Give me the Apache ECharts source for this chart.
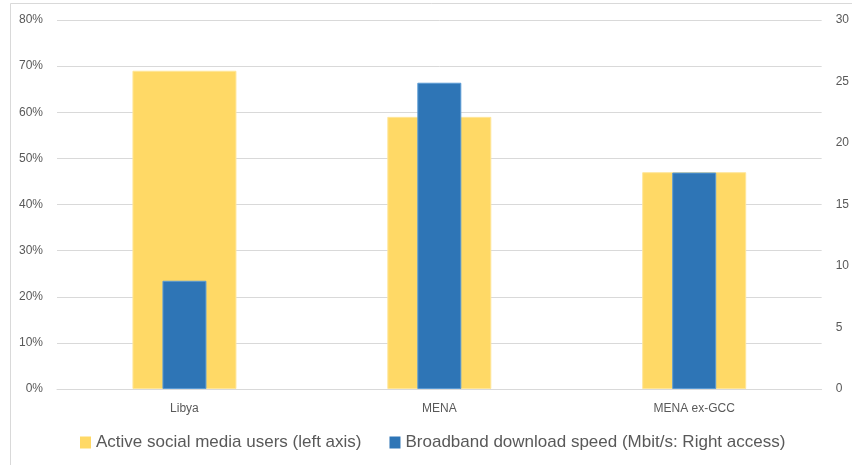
<!DOCTYPE html>
<html>
<head>
<meta charset="utf-8">
<script src="https://cdn.jsdelivr.net/npm/echarts@6/dist/echarts.min.js"></script>
<style>
html,body{margin:0;padding:0;background:#fff;}
#chart{width:852px;height:465px;}
</style>
</head>
<body>
<div id="chart"></div>
<script>
var categories = ['Libya', 'MENA', 'MENA ex-GCC'];
var socialUsers = [0.69, 0.59, 0.47];
var downloadSpeed = [8.8, 24.9, 17.6];
var seriesNames = ['Active social media users (left axis)', 'Broadband download speed (Mbit/s: Right access)'];

var chart = echarts.init(document.getElementById('chart'), null, {renderer: 'canvas'});
var grey = '#595959';
var option = {
  animation: false,
  backgroundColor: '#ffffff',
  graphic: [{
    type: 'rect',
    shape: {x: 10.5, y: 3.5, width: 1000, height: 1000},
    style: {fill: 'none', stroke: '#d9d9d9', lineWidth: 1},
    silent: true
  }],
  grid: {left: 57, right: 25, top: 20, bottom: 76, containLabel: false},
  legend: {
    data: seriesNames,
    left: 75,
    top: 429,
    itemWidth: 11,
    itemHeight: 12,
    itemGap: 28,
    icon: 'rect',
    itemStyle: {borderWidth: 0},
    textStyle: {fontFamily: 'Liberation Sans', fontSize: 17, color: grey}
  },
  xAxis: [{
    type: 'category',
    data: categories,
    axisTick: {show: false},
    axisLine: {show: true, lineStyle: {color: '#d9d9d9', width: 1}},
    axisLabel: {fontFamily: 'Liberation Sans', fontSize: 12, color: grey, margin: 14}
  }, {
    type: 'category',
    data: categories,
    show: false
  }],
  yAxis: [{
    type: 'value',
    min: 0, max: 0.8, interval: 0.1,
    axisLine: {show: false},
    axisTick: {show: false},
    splitLine: {show: true, lineStyle: {color: '#d9d9d9', width: 1}},
    axisLabel: {
      fontFamily: 'Liberation Sans', fontSize: 12, color: grey, margin: 14,
      formatter: function (v) { return Math.round(v * 100) + '%'; }
    }
  }, {
    type: 'value',
    min: 0, max: 30, interval: 5,
    position: 'right',
    axisLine: {show: false},
    axisTick: {show: false},
    splitLine: {show: false},
    axisLabel: {fontFamily: 'Liberation Sans', fontSize: 12, color: grey, margin: 14, align: 'left'}
  }],
  series: [{
    name: seriesNames[0],
    type: 'bar',
    xAxisIndex: 0,
    yAxisIndex: 0,
    data: socialUsers,
    barWidth: 104,
    itemStyle: {color: '#FFD966', borderColor: '#FFE699', borderWidth: 1}
  }, {
    name: seriesNames[1],
    type: 'bar',
    xAxisIndex: 1,
    yAxisIndex: 1,
    data: downloadSpeed,
    barWidth: 44,
    itemStyle: {color: '#2E75B6', borderColor: '#5B9BD5', borderWidth: 1}
  }]
};
chart.setOption(option);
</script>
</body>
</html>
